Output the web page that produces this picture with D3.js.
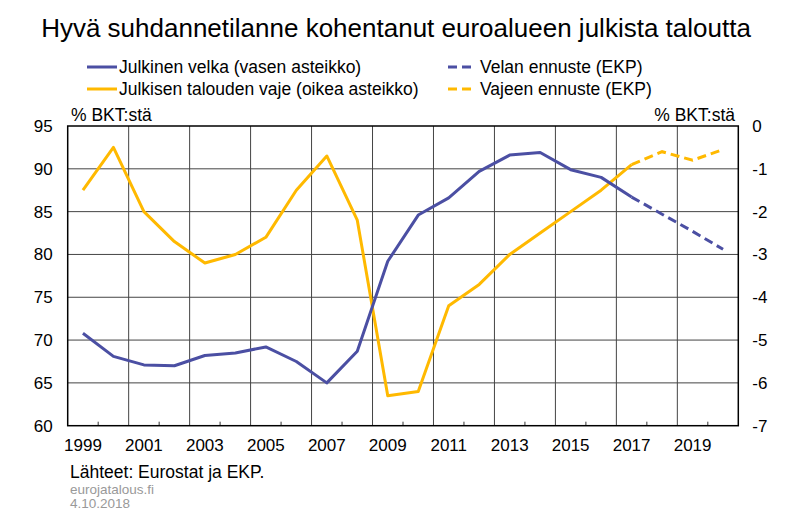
<!DOCTYPE html>
<html><head><meta charset="utf-8">
<script src="https://cdn.jsdelivr.net/npm/d3@7"></script>
<style>body{margin:0;background:#fff}svg{display:block;font-family:"Liberation Sans",Arial,sans-serif}</style>
</head><body><svg id="c" width="800" height="524"></svg>
<script>
const years = d3.range(1999, 2021);
const debt = [70.8, 68.1, 67.1, 67.0, 68.2, 68.5, 69.2, 67.5, 65.0, 68.7, 79.2, 84.6, 86.6, 89.7, 91.6, 91.9, 89.9, 89.0, 86.7];
const debtForecast = [86.7, 84.7, 82.7, 80.6];
const deficit = [-1.5, -0.5, -2.0, -2.7, -3.2, -3.0, -2.6, -1.5, -0.7, -2.2, -6.3, -6.2, -4.2, -3.7, -3.0, -2.5, -2.0, -1.5, -0.9];
const deficitForecast = [-0.9, -0.6, -0.8, -0.55];
const forecastStart = 2017;
const leftTicks = [60, 65, 70, 75, 80, 85, 90, 95];
const rightTicks = [-7, -6, -5, -4, -3, -2, -1, 0];
const xLabels = d3.range(1999, 2021, 2);
const title = "Hyvä suhdannetilanne kohentanut euroalueen julkista taloutta";
const legendItems = ["Julkinen velka (vasen asteikko)", "Julkisen talouden vaje (oikea asteikko)", "Velan ennuste (EKP)", "Vajeen ennuste (EKP)"];
const unitLabel = "% BKT:stä";
const source = "Lähteet: Eurostat ja EKP.";
const site = "eurojatalous.fi";
const date = "4.10.2018";

const BLUE = "#4b4fa3", YELLOW = "#ffb900";
const FF = "Liberation Sans, Arial, sans-serif";
const svg = d3.select("#c");
const L = 67.7, R = 738.3, T = 126, B = 425.7;
const x = d3.scaleBand().domain(years).range([L, R]).padding(0);
const cx = y => x(y) + x.bandwidth() / 2;
const yL = d3.scaleLinear().domain([60, 95]).range([B, T]);
const yR = d3.scaleLinear().domain([-7, 0]).range([B, T]);

// title
svg.append("text").attr("x", 396).attr("y", 37).attr("text-anchor", "middle")
  .attr("font-size", 26).attr("fill", "#000").text(title);

// legend
const leg = [
  {x: 87, y: 67, c: BLUE, dash: null, t: legendItems[0]},
  {x: 87, y: 89, c: YELLOW, dash: null, t: legendItems[1]},
  {x: 448, y: 67, c: BLUE, dash: "9,5", t: legendItems[2]},
  {x: 448, y: 89, c: YELLOW, dash: "9,5", t: legendItems[3]}
];
leg.forEach(d => {
  const w = d.dash ? 24 : 30;
  svg.append("line").attr("x1", d.x).attr("x2", d.x + w).attr("y1", d.y).attr("y2", d.y)
    .attr("stroke", d.c).attr("stroke-width", 3).attr("stroke-dasharray", d.dash);
  svg.append("text").attr("x", d.x + 32).attr("y", d.y + 6)
    .attr("font-size", 17.5).text(d.t);
});

// grid
const g = svg.append("g");
g.selectAll(".hg").data(leftTicks.filter(v => v > 60 && v < 95)).join("line")
  .attr("x1", L).attr("x2", R).attr("y1", d => yL(d)).attr("y2", d => yL(d))
  .attr("stroke", "#444").attr("stroke-width", 1);
g.selectAll(".vg").data(xLabels.slice(1)).join("line")
  .attr("x1", d => x(d)).attr("x2", d => x(d)).attr("y1", T).attr("y2", B)
  .attr("stroke", "#444").attr("stroke-width", 1);
g.selectAll(".mt").data(d3.range(2000, 2021, 2)).join("line")
  .attr("x1", d => x(d)).attr("x2", d => x(d)).attr("y1", B - 4).attr("y2", B)
  .attr("stroke", "#333").attr("stroke-width", 1);

// frame
svg.append("rect").attr("x", L).attr("y", T).attr("width", R - L).attr("height", B - T)
  .attr("fill", "none").attr("stroke", "#000").attr("stroke-width", 1.5);

// axes
const styleAxis = a => {
  a.select(".domain").remove();
  a.selectAll("text").attr("font-size", 17).attr("fill", "#000").attr("font-family", FF);
};
svg.append("g").attr("transform", `translate(${L},0)`)
  .call(d3.axisLeft(yL).tickValues(leftTicks).tickSize(0).tickPadding(15)).call(styleAxis);
svg.append("g").attr("transform", `translate(${R},0)`)
  .call(d3.axisRight(yR).tickValues(rightTicks).tickSize(0).tickPadding(14)
    .tickFormat(d => d < 0 ? "-" + Math.abs(d) : d)).call(styleAxis);
svg.append("g").attr("transform", `translate(0,${B})`)
  .call(d3.axisBottom(x).tickValues(xLabels).tickSize(0).tickPadding(13)).call(styleAxis);

svg.append("text").attr("x", 71).attr("y", 121).attr("font-size", 17.5).text(unitLabel);
svg.append("text").attr("x", 735).attr("y", 121).attr("font-size", 17.5).attr("text-anchor", "end").text(unitLabel);

// lines
const lineL = d3.line().x(d => cx(d[0])).y(d => yL(d[1]));
const lineR = d3.line().x(d => cx(d[0])).y(d => yR(d[1]));
const histYears = years.filter(y => y <= forecastStart);
const fYears = years.filter(y => y >= forecastStart);
svg.append("path").datum(histYears.map((y, i) => [y, deficit[i]])).attr("d", lineR)
  .attr("fill", "none").attr("stroke", YELLOW).attr("stroke-width", 3).attr("stroke-linejoin", "round");
svg.append("path").datum(fYears.map((y, i) => [y, deficitForecast[i]])).attr("d", lineR)
  .attr("fill", "none").attr("stroke", YELLOW).attr("stroke-width", 3).attr("stroke-dasharray", "9,5");
svg.append("path").datum(histYears.map((y, i) => [y, debt[i]])).attr("d", lineL)
  .attr("fill", "none").attr("stroke", BLUE).attr("stroke-width", 3).attr("stroke-linejoin", "round");
svg.append("path").datum(fYears.map((y, i) => [y, debtForecast[i]])).attr("d", lineL)
  .attr("fill", "none").attr("stroke", BLUE).attr("stroke-width", 3).attr("stroke-dasharray", "9,5");

// source
svg.append("text").attr("x", 70).attr("y", 478).attr("font-size", 17.5).text(source);
svg.append("text").attr("x", 70).attr("y", 494).attr("font-size", 13.5).attr("fill", "#999").text(site);
svg.append("text").attr("x", 70).attr("y", 508).attr("font-size", 13.5).attr("fill", "#999").text(date);
</script></body></html>
